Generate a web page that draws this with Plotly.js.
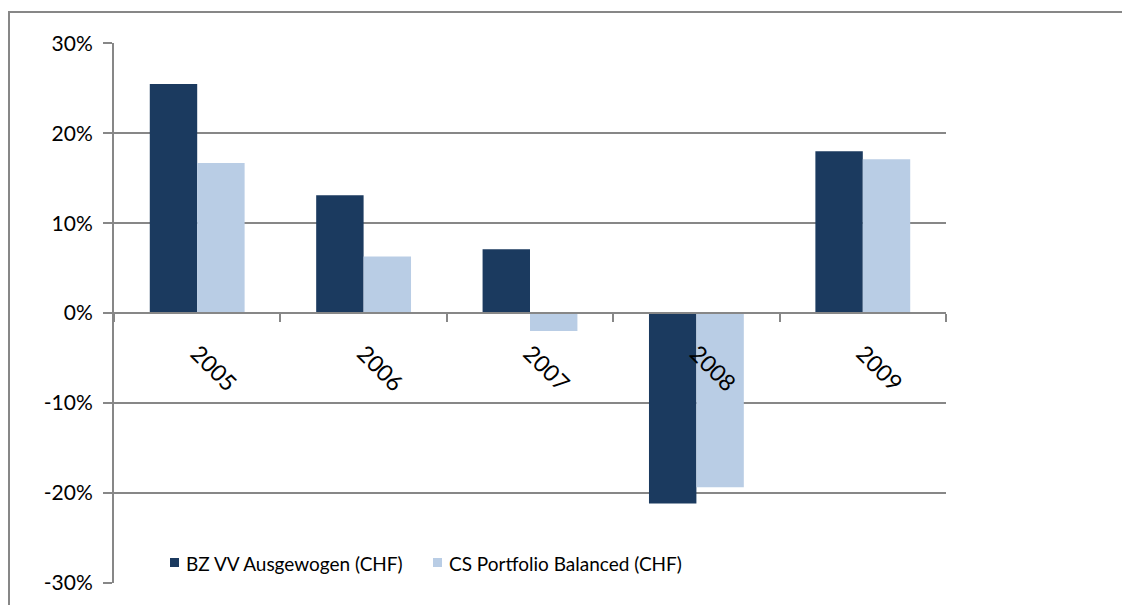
<!DOCTYPE html>
<html>
<head>
<meta charset="utf-8">
<script src="https://cdn.plot.ly/plotly-3.0.1.min.js"></script>
<style>html,body{margin:0;padding:0;background:#fff;}#chart{width:1122px;height:605px;}</style>
</head>
<body>
<div id="chart"></div>
<script>
const years = ["2005", "2006", "2007", "2008", "2009"];
const bzValues = [25.5, 13.1, 7.1, -21.2, 18.0];
const csValues = [16.7, 6.3, -2.0, -19.4, 17.1];
const seriesNames = ["BZ VV Ausgewogen (CHF)", "CS Portfolio Balanced (CHF)"];
const seriesColors = ["#1B3A5F", "#B9CDE5"];
const yTickVals = [-30, -20, -10, 0, 10, 20, 30];
const yTickText = ["-30%", "-20%", "-10%", "0%", "10%", "20%", "30%"];

const font = "Lato, 'Open Sans', sans-serif";
const gray = "#878787";

const traces = [
  {type: "bar", name: seriesNames[0], x: years, y: bzValues, marker: {color: seriesColors[0]}},
  {type: "bar", name: seriesNames[1], x: years, y: csValues, marker: {color: seriesColors[1]}}
];

// manual legend (Excel style): small square + label, placed inside plot near bottom
const legendSquareX = [0.0673, 0.3834];
const legendTextX = [0.0841, 0.4002];
const legendShapes = seriesNames.map((n, i) => ({
  type: "rect", xref: "paper", yref: "paper",
  x0: legendSquareX[i], x1: legendSquareX[i] + 0.0108, y0: 0.0296, y1: 0.0463,
  line: {width: 0}, fillcolor: seriesColors[i]
}));
const legendAnnotations = seriesNames.map((n, i) => ({
  xref: "paper", yref: "paper", x: legendTextX[i], y: 0.037,
  xanchor: "left", yanchor: "middle", showarrow: false, text: n,
  font: {family: font, size: 19, color: "#000"}
}));

const layout = {
  width: 1122, height: 605,
  margin: {l: 114, r: 176, t: 43, b: 22, pad: 0},
  paper_bgcolor: "#fff", plot_bgcolor: "#fff",
  barmode: "group", bargap: 0.43, bargroupgap: 0,
  font: {family: font, size: 21, color: "#000"},
  showlegend: false,
  xaxis: {
    type: "category", anchor: "free", position: 0.5,
    tickson: "boundaries", ticks: "outside", ticklen: 8, tickcolor: gray, tickwidth: 2,
    showline: true, linecolor: gray, linewidth: 2,
    showgrid: false, zeroline: false, tickangle: 45, ticklabelstandoff: 17,
    tickfont: {family: font, size: 23, color: "#000"}
  },
  yaxis: {
    range: [-30.05, 30.05], tickvals: yTickVals, ticktext: yTickText,
    showgrid: true, gridcolor: gray, gridwidth: 2,
    zeroline: false, showline: true, linecolor: gray, linewidth: 2,
    ticks: "outside", ticklen: 9, tickcolor: gray, tickwidth: 2,
    tickfont: {family: font, size: 21, color: "#000"}, ticklabelstandoff: 6
  },
  annotations: legendAnnotations,
  shapes: [
    {type: "rect", xref: "paper", yref: "paper", x0: -0.1262, x1: 1.3, y0: -0.2, y1: 1.0574,
     line: {color: gray, width: 2}, fillcolor: "rgba(0,0,0,0)", layer: "below"}
  ].concat(legendShapes)
};

Plotly.newPlot("chart", traces, layout, {displayModeBar: false, staticPlot: true});
</script>
</body>
</html>
